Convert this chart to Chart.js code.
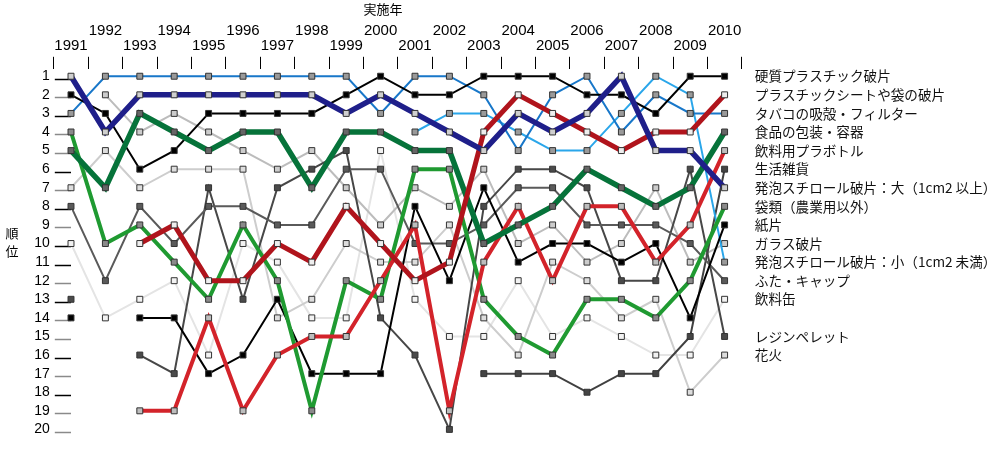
<!DOCTYPE html>
<html><head><meta charset="utf-8">
<script src="https://cdn.jsdelivr.net/npm/chart.js@4.4.0/dist/chart.umd.min.js"></script>
<style>html,body{margin:0;padding:0;background:#fff;}#wrap{width:1003px;height:458px;}</style>
</head><body><div id="wrap"><canvas id="c" width="1003" height="458"></canvas></div>
<script>
const years = ['1991','1992','1993','1994','1995','1996','1997','1998','1999','2000','2001','2002','2003','2004','2005','2006','2007','2008','2009','2010'];
const rankTicks = [1,2,3,4,5,6,7,8,9,10,11,12,13,14,15,16,17,18,19,20];
const xTitle = '実施年';
const yTitle = ['順','位'];
// legend labels placed at their 2010 rank
const legendRanks = [1,2,3,4,5,6,7,8,9,10,11,12,13,15,16];
const legendNames = ['硬質プラスチック破片','プラスチックシートや袋の破片','タバコの吸殻・フィルター','食品の包装・容器','飲料用プラボトル','生活雑貨','発泡スチロール破片：大（1cm2 以上）','袋類（農業用以外）','紙片','ガラス破片','発泡スチロール破片：小（1cm2 未満）','ふた・キャップ','飲料缶','レジンペレット','花火'];

const hard      = [2,3,6,5,3,3,3,3,2,1,2,2,1,1,1,2,2,3,1,1];
const sheet     = [null,null,10,9,12,12,10,11,8,10,12,11,4,2,3,4,5,4,4,2];
const tobacco   = [3,1,1,1,1,1,1,1,1,3,1,1,2,5,2,1,4,2,3,3];
const food      = [5,7,3,4,5,4,4,7,4,4,5,5,10,9,8,6,7,8,7,4];
const bottle    = [null,null,19,19,14,19,16,15,15,12,9,19,11,8,12,8,8,11,9,5];
const goods     = [null,null,null,null,null,null,null,null,null,null,null,null,17,17,17,18,17,17,15,6];
const foamL     = [1,4,2,2,2,2,2,2,3,2,3,4,5,3,4,3,1,5,5,7];
const bags      = [4,10,9,11,13,9,12,19,12,13,6,6,13,15,16,13,13,14,12,8];
const paper     = [14,null,14,14,17,16,13,17,17,17,8,12,7,11,10,10,11,10,14,9];
const glass     = [null,2,4,3,4,5,6,5,7,9,7,8,6,10,9,11,10,7,11,10];
const foamS     = [null,null,null,null,null,null,null,null,null,null,4,3,3,4,5,5,3,1,2,11];
const caps      = [8,12,8,10,8,8,9,9,6,6,10,10,9,7,7,9,9,9,10,12];
const cans      = [10,14,13,12,16,10,11,14,14,5,13,15,15,12,15,14,15,16,16,13];
const pellets   = [13,null,16,17,7,13,7,6,5,14,16,20,8,6,6,7,12,12,6,15];
const fireworks = [7,5,7,6,6,6,14,13,10,11,11,9,14,16,11,12,14,13,18,16];

// left rank tick-mark colours (B = black, G = grey), as seen in the reference
const tickShade = ['B','G','B','G','G','B','G','B','G','B','B','G','B','G','G','B','G','B','G','G'];

function ds(label, data, color, width, pointFill, order) {
  return { label, data, borderColor: color, backgroundColor: color, borderWidth: width,
    pointStyle: 'rect', pointRadius: 4.2, pointHoverRadius: 4.2, pointBackgroundColor: pointFill,
    pointBorderColor: '#333', pointBorderWidth: 1, tension: 0, order, spanGaps: false, clip: false };
}

const datasets = [
  ds(legendNames[0], hard, '#000000', 2, '#000000', 3),
  ds(legendNames[1], sheet, '#b0141c', 5, '#eeeeee', 1),
  ds(legendNames[2], tobacco, '#1877c9', 2, '#9a9a9a', 4),
  ds(legendNames[3], food, '#06733a', 5.5, '#666666', 2),
  ds(legendNames[4], bottle, '#d3232a', 4, '#bdbdbd', 5),
  ds(legendNames[5], goods, '#404040', 2, '#444444', 12),
  ds(legendNames[6], foamL, '#1f1f8a', 5.5, '#cfcfcf', 0),
  ds(legendNames[7], bags, '#1f9a31', 4, '#8a8a8a', 6),
  ds(legendNames[8], paper, '#000000', 2, '#000000', 7),
  ds(legendNames[9], glass, '#bcbcbc', 2, '#cccccc', 13),
  ds(legendNames[10], foamS, '#2aa6ea', 2, '#9a9a9a', 8),
  ds(legendNames[11], caps, '#5a5a5a', 2, '#5a5a5a', 10),
  ds(legendNames[12], cans, '#e4e4e4', 2, '#f2f2f2', 15),
  ds(legendNames[13], pellets, '#474747', 2, '#4a4a4a', 11),
  ds(legendNames[14], fireworks, '#cdcdcd', 2, '#dddddd', 14)
];

const legendMap = {};
legendRanks.forEach((r, i) => { legendMap[r] = legendNames[i]; });

const decor = {
  id: 'decor',
  beforeDatasetsDraw(chart) {
    const ctx = chart.ctx, y = chart.scales.y, x = chart.scales.x;
    const x0 = chart.chartArea.left + 1, x1 = x.getPixelForValue(0);
    ctx.save();
    rankTicks.forEach((r, i) => {
      const py = Math.round(y.getPixelForValue(r) + 2.5) + 0.5;
      ctx.strokeStyle = tickShade[i] === 'B' ? '#000' : '#8a8a8a';
      ctx.lineWidth = 1.5;
      ctx.beginPath(); ctx.moveTo(x0, py); ctx.lineTo(x1, py); ctx.stroke();
    });
    ctx.restore();
  },
  afterDraw(chart) {
    const ctx = chart.ctx;
    ctx.save();
    ctx.fillStyle = '#000';
    ctx.textAlign = 'center'; ctx.textBaseline = 'middle';
    ctx.font = '13px "Noto Sans CJK JP"';
    ctx.fillText(xTitle, 383, 9);
    ctx.fillText(yTitle[0], 12, 233);
    ctx.fillText(yTitle[1], 12, 251);
    ctx.restore();
  }
};

new Chart(document.getElementById('c'), {
  type: 'line',
  data: { labels: years, datasets },
  options: {
    responsive: false, animation: false, devicePixelRatio: 1,
    layout: { padding: 0 },
    plugins: { legend: { display: false }, tooltip: { enabled: false } },
    scales: {
      x: {
        type: 'category', position: 'top', offset: true,
        grid: { offset: true, drawOnChartArea: false, drawTicks: true, tickLength: 12, color: '#000', lineWidth: 1 },
        border: { display: false },
        ticks: {
          autoSkip: false, maxRotation: 0, padding: 3, color: '#000',
          font: { family: '"Liberation Sans", Arial, sans-serif', size: 15, lineHeight: 1.0 },
          callback: function(v, i) { const t = this.getLabelForValue(v); return i % 2 === 0 ? ['', t] : [t, '']; }
        },
        afterFit: s => { s.height = 68.8; }
      },
      y: {
        type: 'linear', position: 'left', reverse: true, min: 0.6, max: 20.4,
        afterBuildTicks: s => { s.ticks = rankTicks.map(v => ({ value: v })); },
        grid: { display: false, drawTicks: false }, border: { display: false },
        ticks: { autoSkip: false, padding: 4, color: '#000', font: { family: '"Liberation Sans", Arial, sans-serif', size: 14 }, callback: v => String(v) },
        afterFit: s => { s.width = 53.8; }
      },
      yR: {
        type: 'linear', position: 'right', reverse: true, min: 0.6, max: 20.4,
        afterBuildTicks: s => { s.ticks = legendRanks.map(v => ({ value: v })); },
        grid: { display: false, drawTicks: false }, border: { display: false },
        ticks: { autoSkip: false, padding: 13, color: '#111', font: { family: '"Noto Sans CJK JP"', size: 13.6 }, callback: v => legendMap[v] || '' },
        afterFit: s => { s.width = 261.2; }
      }
    }
  },
  plugins: [decor]
});
</script></body></html>
